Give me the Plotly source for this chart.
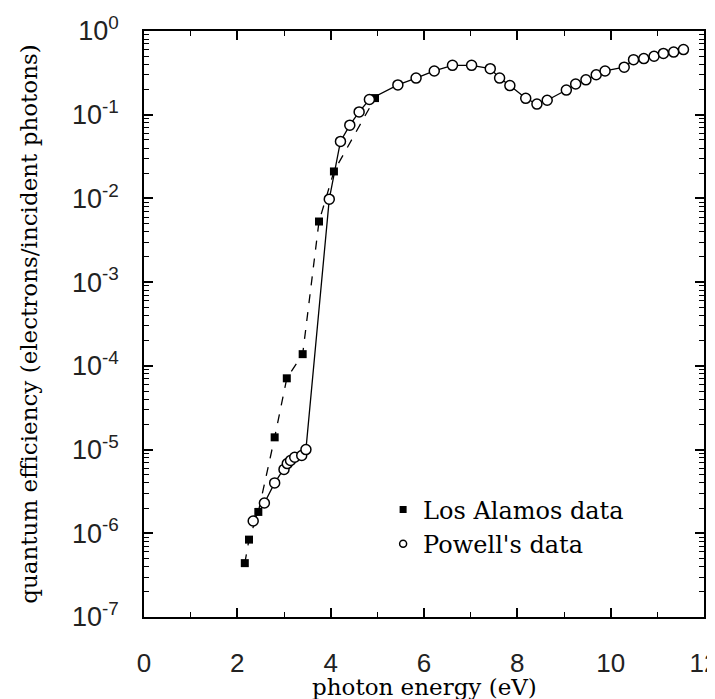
import plotly.graph_objects as go

# Los Alamos data (filled squares, dashed line)
la_energy = [2.16, 2.25, 2.45, 2.80, 3.06, 3.40, 3.75, 4.07, 4.95]
la_qe = [4.4e-7, 8.4e-7, 1.8e-6, 1.4e-5, 7.1e-5, 1.38e-4, 5.3e-3, 2.1e-2, 0.158]

# Powell's data (open circles, solid line)
pw_energy = [2.34, 2.58, 2.80, 3.00, 3.07, 3.14, 3.23, 3.38, 3.47, 3.97,
             4.21, 4.41, 4.61, 4.83, 5.44, 5.83, 6.22, 6.61, 7.02, 7.42,
             7.62, 7.84, 8.18, 8.42, 8.64, 9.05, 9.25, 9.47, 9.69, 9.88,
             10.29, 10.49, 10.71, 10.93, 11.13, 11.35, 11.56]
pw_qe = [1.4e-6, 2.3e-6, 4.0e-6, 5.8e-6, 6.8e-6, 7.4e-6, 8.1e-6, 8.5e-6, 1.0e-5, 9.8e-3,
         4.8e-2, 7.5e-2, 0.108, 0.152, 0.227, 0.274, 0.333, 0.389, 0.389, 0.355,
         0.274, 0.223, 0.157, 0.134, 0.149, 0.197, 0.233, 0.261, 0.30, 0.333,
         0.37, 0.455, 0.468, 0.50, 0.54, 0.56, 0.60]

# tick labels
x_ticks = [0, 2, 4, 6, 8, 10, 12]
y_ticks = [1e-7, 1e-6, 1e-5, 1e-4, 1e-3, 1e-2, 1e-1, 1]
y_ticktext = ["10<sup>-7</sup>", "10<sup>-6</sup>", "10<sup>-5</sup>", "10<sup>-4</sup>",
              "10<sup>-3</sup>", "10<sup>-2</sup>", "10<sup>-1</sup>", "10<sup>0</sup>"]

serif = "DejaVu Serif"
sans = "Liberation Sans"

fig = go.Figure()

# data traces
fig.add_trace(go.Scatter(
    x=la_energy, y=la_qe, mode="lines+markers", showlegend=False,
    line=dict(color="black", width=1.3, dash="dash"),
    marker=dict(symbol="square", size=8, color="black"),
))
fig.add_trace(go.Scatter(
    x=pw_energy, y=pw_qe, mode="lines+markers", showlegend=False,
    line=dict(color="black", width=1.3),
    marker=dict(symbol="circle", size=10, color="white", line=dict(color="black", width=1.5)),
))

# legend entries: markers only
fig.add_trace(go.Scatter(
    x=[None], y=[None], mode="markers", name="Los Alamos data",
    marker=dict(symbol="square", size=7, color="black"),
))
fig.add_trace(go.Scatter(
    x=[None], y=[None], mode="markers", name="Powell's data",
    marker=dict(symbol="circle", size=7, color="white", line=dict(color="black", width=1.5)),
))

axis_common = dict(
    showline=True, linecolor="black", linewidth=1.5, mirror="ticks",
    ticks="inside", tickcolor="black", tickwidth=1.5, ticklen=9,
    showgrid=False, zeroline=False, automargin=False,
)

fig.update_xaxes(
    range=[0, 12], tickvals=x_ticks,
    tickfont=dict(family=sans, size=26, color="#222"),
    ticklabelstandoff=22,
    minor=dict(ticks="inside", dtick=1, ticklen=5, tickcolor="black", tickwidth=1.2),
    **axis_common,
)
fig.update_yaxes(
    type="log", range=[-7, 0], tickvals=y_ticks, ticktext=y_ticktext,
    tickfont=dict(family=sans, size=27, color="#222"),
    ticklabelstandoff=18,
    title=dict(text="quantum efficiency (electrons/incident photons)",
               font=dict(family=serif, size=23, color="black"), standoff=28),
    minor=dict(ticks="inside", dtick="D1", ticklen=5, tickcolor="black", tickwidth=1.2),
    **axis_common,
)

# x title as an annotation so it sits close under the tick labels
fig.add_annotation(
    text="photon energy (eV)", xref="paper", yref="paper",
    x=0.5, y=-0.119, xanchor="center", yanchor="middle", showarrow=False,
    font=dict(family=serif, size=23, color="black"),
)

# the page adds an 8 px body margin, so margins are offset by that
fig.update_layout(
    width=715, height=699,
    margin=dict(l=136, r=19, t=23, b=90),
    plot_bgcolor="white", paper_bgcolor="white",
    legend=dict(
        x=0.427, y=0.221, xanchor="left", yanchor="top",
        font=dict(family=serif, size=24, color="black"),
        bgcolor="rgba(0,0,0,0)", tracegroupgap=0, itemwidth=30,
    ),
)

fig.write_html("out.html")
